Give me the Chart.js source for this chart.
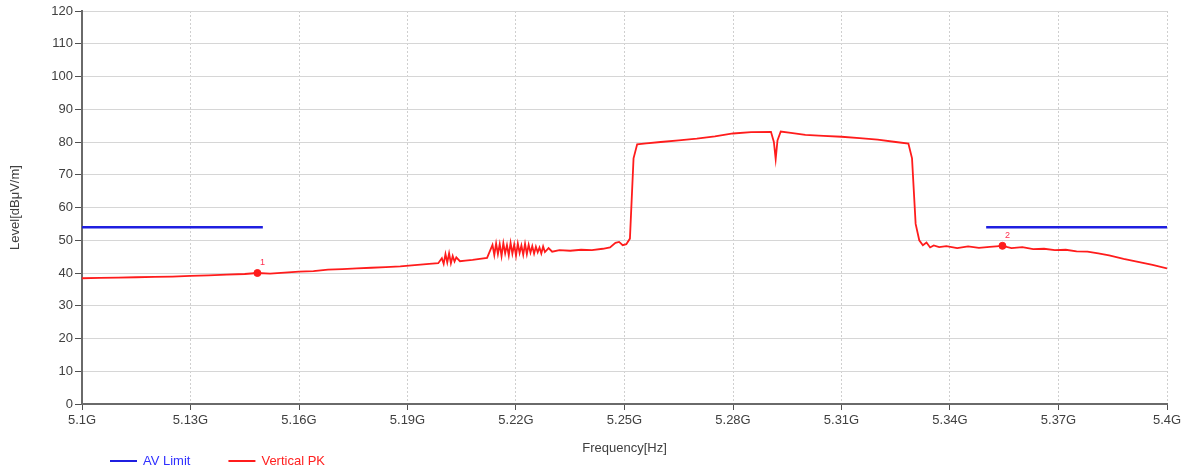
<!DOCTYPE html>
<html>
<head>
<meta charset="utf-8">
<script src="https://cdn.jsdelivr.net/npm/chart.js@4.4.1/dist/chart.umd.min.js"></script>
<style>
html, body { margin: 0; padding: 0; background: #fff; }
#caixa { position: relative; width: 1187px; height: 470px; }
</style>
</head>
<body>
<div id="caixa"><canvas id="grafico"></canvas></div>
<script>
// Dados
const freqPK = [
  5.100, 5.105, 5.110, 5.115, 5.120, 5.125, 5.130, 5.135, 5.140, 5.145,
  5.1485, 5.152, 5.156, 5.160, 5.164, 5.168, 5.172, 5.176, 5.180, 5.184,
  5.188, 5.192, 5.196,
  5.1985, 5.1995, 5.2000, 5.2005, 5.2010, 5.2015, 5.2020, 5.2025, 5.2030, 5.2035,
  5.2045, 5.206, 5.208, 5.210, 5.212,
  5.2135, 5.2140, 5.2145, 5.2150, 5.2155, 5.2160, 5.2165, 5.2170, 5.2175, 5.2180,
  5.2185, 5.2190, 5.2195, 5.2200, 5.2205, 5.2210, 5.2215, 5.2220, 5.2225, 5.2230,
  5.2235, 5.2240, 5.2245, 5.2250, 5.2255, 5.2260, 5.2265, 5.2270, 5.2275, 5.2280,
  5.2290, 5.2300,
  5.232, 5.235, 5.238, 5.241, 5.244, 5.246, 5.2475, 5.2485, 5.2495, 5.2505,
  5.2515, 5.2525, 5.2535, 5.256, 5.260, 5.265, 5.270, 5.275, 5.280, 5.285,
  5.2905, 5.2913, 5.2918, 5.2923, 5.2932, 5.296, 5.300, 5.305, 5.310, 5.315,
  5.320, 5.325, 5.3285, 5.3295, 5.3305, 5.3315, 5.3325, 5.3335, 5.3345, 5.3355,
  5.337, 5.339, 5.342, 5.345, 5.348, 5.351, 5.3545, 5.357, 5.360, 5.363,
  5.366, 5.369, 5.372, 5.375, 5.378, 5.381, 5.384, 5.388, 5.392, 5.396, 5.400
];
const levelPK = [
  38.4, 38.5, 38.6, 38.7, 38.8, 38.9, 39.1, 39.3, 39.5, 39.7,
  40.0, 39.8, 40.1, 40.4, 40.6, 41.0, 41.2, 41.4, 41.6, 41.8,
  42.0, 42.4, 42.8,
  43.0, 44.5, 42.8, 45.8, 43.2, 46.0, 43.0, 45.2, 43.5, 44.8,
  43.6, 43.8, 44.0, 44.3, 44.6,
  48.6, 45.5, 49.0, 45.8, 48.8, 45.2, 49.1, 46.0, 48.5, 45.4,
  49.2, 45.9, 48.7, 45.3, 49.0, 46.1, 48.4, 45.6, 48.9, 45.8,
  48.6, 46.2, 48.2, 45.9, 48.0, 46.3, 47.8, 46.0, 48.1, 46.4,
  47.6, 46.5,
  47.0, 46.8, 47.1, 47.0, 47.4, 47.8, 49.2, 49.5, 48.5, 48.8,
  50.5, 75.0, 79.3, 79.6, 80.0, 80.5, 81.0, 81.7, 82.6, 83.0,
  83.1, 80.0, 74.8, 80.5, 83.2, 82.8, 82.2, 81.9, 81.6, 81.2,
  80.7, 80.0, 79.5, 75.0, 55.0, 50.0, 48.5, 49.3, 47.8, 48.4,
  47.9, 48.2, 47.6, 48.1, 47.7, 48.0, 48.3, 47.6, 47.9, 47.3,
  47.4, 47.0, 47.1, 46.6, 46.5, 46.0, 45.4, 44.3, 43.4, 42.5, 41.4
];
const limitFreq = [5.10, 5.15, 5.25, 5.35, 5.40];
const limitLevel = [54, 54, null, 54, 54];
const markerFreq = [5.1485, 5.3545];
const markerLevel = [40.0, 48.3];
const markerLabels = ['1', '2'];
const xTicks = [5.10, 5.13, 5.16, 5.19, 5.22, 5.25, 5.28, 5.31, 5.34, 5.37, 5.40];

Chart.defaults.font.family = "'Liberation Sans', Arial, sans-serif";
Chart.defaults.font.size = 13;
Chart.defaults.color = '#404040';

// Rotulos dos marcadores
const rotulosMarcador = {
  id: 'rotulosMarcador',
  afterDatasetsDraw(chart) {
    const meta = chart.getDatasetMeta(2);
    const ctx = chart.ctx;
    ctx.save();
    ctx.fillStyle = '#ff3050';
    ctx.font = "9px 'Liberation Sans', Arial, sans-serif";
    ctx.textAlign = 'center';
    ctx.textBaseline = 'middle';
    meta.data.forEach((p, i) => ctx.fillText(markerLabels[i], p.x + 5, p.y - 10));
    ctx.restore();
  }
};

// Legenda embaixo a esquerda
const legendaInferior = {
  id: 'legendaInferior',
  afterDraw(chart) {
    const ctx = chart.ctx;
    const y = 461;
    let x = 110;
    ctx.save();
    ctx.font = "13px 'Liberation Sans', Arial, sans-serif";
    ctx.textBaseline = 'middle';
    chart.data.datasets.forEach(ds => {
      if (!ds.naLegenda) return;
      ctx.strokeStyle = ds.borderColor;
      ctx.lineWidth = 2;
      ctx.beginPath();
      ctx.moveTo(x, y);
      ctx.lineTo(x + 27, y);
      ctx.stroke();
      ctx.fillStyle = ds.corTexto;
      ctx.fillText(ds.label, x + 33, y);
      x += 33 + ctx.measureText(ds.label).width + 38;
    });
    ctx.restore();
  }
};

const ctx = document.getElementById('grafico');
if (ctx) {
  new Chart(ctx, {
    type: 'line',
    data: {
      datasets: [
        {
          label: 'AV Limit',
          naLegenda: true,
          corTexto: '#3030ff',
          data: limitFreq.map((f, i) => ({ x: f, y: limitLevel[i] })),
          borderColor: '#1f1fe0',
          borderWidth: 2.5,
          pointRadius: 0,
          spanGaps: false
        },
        {
          label: 'Vertical PK',
          naLegenda: true,
          corTexto: '#ff2020',
          data: freqPK.map((f, i) => ({ x: f, y: levelPK[i] })),
          borderColor: '#ff1c1c',
          borderWidth: 1.8,
          pointRadius: 0,
          tension: 0
        },
        {
          label: 'Markers',
          data: markerFreq.map((f, i) => ({ x: f, y: markerLevel[i] })),
          showLine: false,
          pointRadius: 3.5,
          pointBackgroundColor: '#ff1c1c',
          pointBorderColor: '#ff1c1c'
        }
      ]
    },
    options: {
      responsive: true,
      maintainAspectRatio: false,
      animation: false,
      layout: { padding: { top: 11, right: 20, bottom: 14, left: 0 } },
      plugins: {
        legend: { display: false },
        tooltip: { enabled: false }
      },
      scales: {
        x: {
          type: 'linear',
          min: 5.1,
          max: 5.4,
          afterBuildTicks: s => { s.ticks = xTicks.map(v => ({ value: v })); },
          afterFit: s => { s.height = 52; },
          ticks: {
            padding: 3,
            maxRotation: 0,
            callback: v => Math.round(v * 100) / 100 + 'G'
          },
          grid: { color: '#cfcfcf', tickColor: '#505050', tickLength: 6 },
          border: { color: '#6a6a6a', width: 2, dash: [2, 2] },
          title: { display: true, text: 'Frequency[Hz]', padding: { top: 5, bottom: 0 } }
        },
        y: {
          min: 0,
          max: 120,
          afterFit: s => { s.width = 82; },
          ticks: { stepSize: 10, padding: 2 },
          grid: { color: '#d6d6d6', tickColor: '#505050', tickLength: 7 },
          border: { color: '#6a6a6a', width: 2 },
          title: { display: true, text: 'Level[dBμV/m]', padding: { top: 8, bottom: 0 } }
        }
      }
    },
    plugins: [rotulosMarcador, legendaInferior]
  });
}
</script>
</body>
</html>
